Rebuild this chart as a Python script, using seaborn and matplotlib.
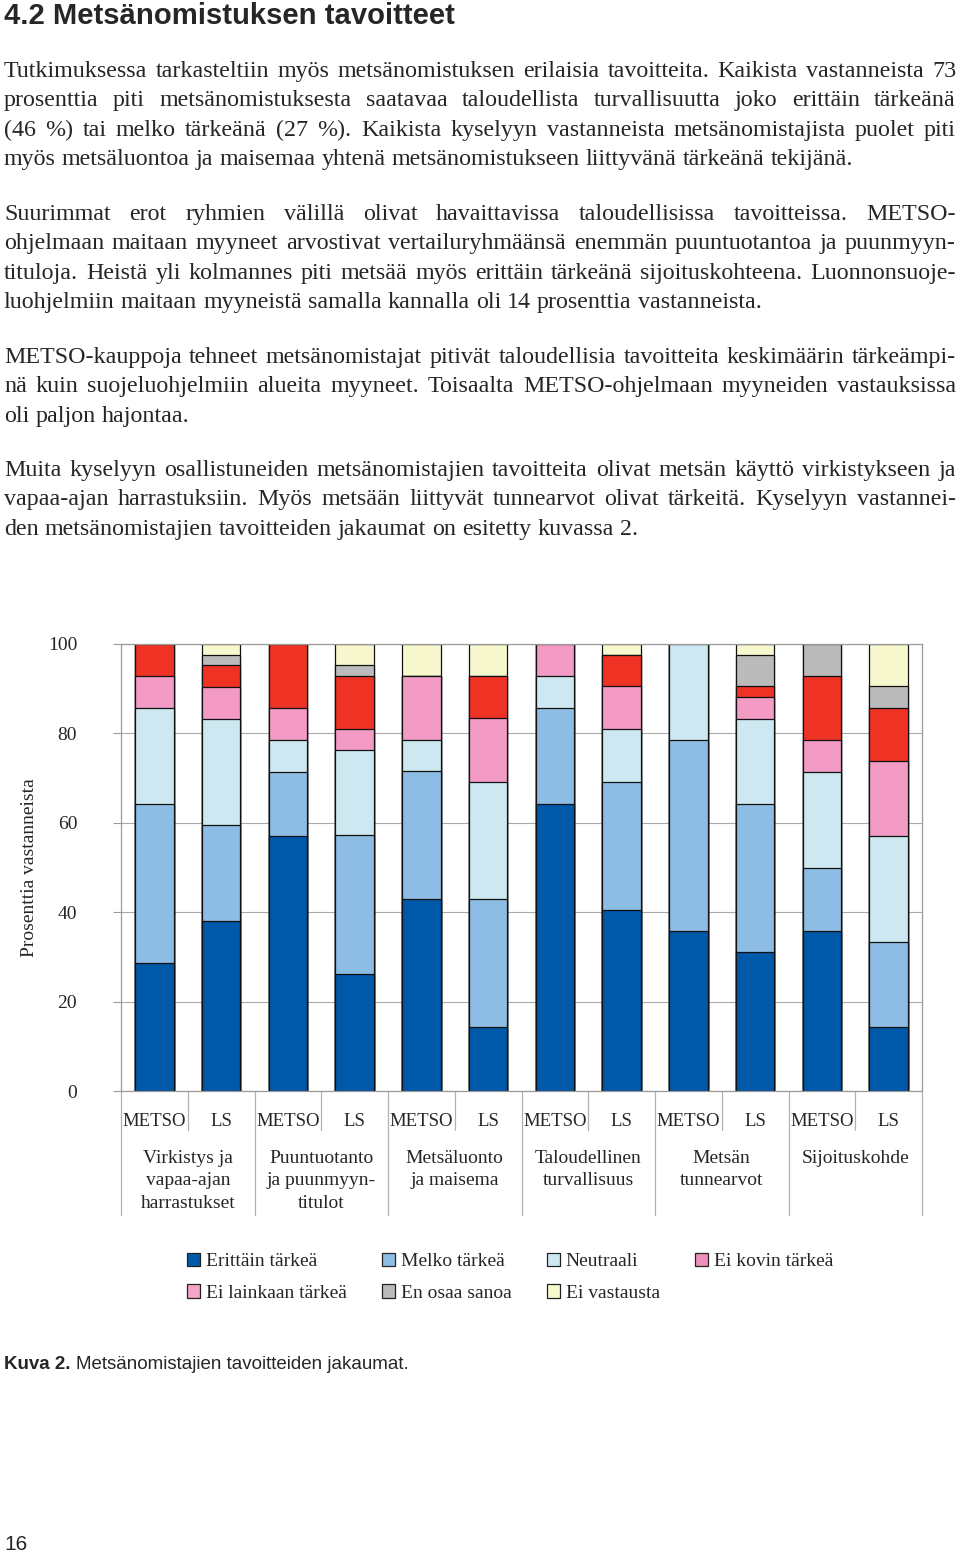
import numpy as np
import pandas as pd
import seaborn as sns
import matplotlib.pyplot as plt
import matplotlib.transforms as mtransforms
from matplotlib.patches import Patch

W, H = 960, 1553

# Kuvan 2 aineisto: prosenttia vastanneista
ryhmat = ['Virkistys ja\nvapaa-ajan\nharrastukset', 'Puuntuotanto\nja puunmyyn-\ntitulot',
          'Metsäluonto\nja maisema', 'Taloudellinen\nturvallisuus', 'Metsän\ntunnearvot', 'Sijoituskohde']
kohteet = ['METSO', 'LS']
vastaukset = ['Erittäin tärkeä', 'Melko tärkeä', 'Neutraali', 'Ei kovin tärkeä',
              'Ei lainkaan tärkeä', 'En osaa sanoa', 'Ei vastausta']

erittain = [28.6, 38.1, 57.1, 26.2, 42.9, 14.3, 64.3, 40.5, 35.7, 31.0, 35.7, 14.3]
melko = [35.7, 21.4, 14.3, 31.0, 28.6, 28.6, 21.4, 28.6, 42.9, 33.3, 14.3, 19.0]
neutraali = [21.4, 23.8, 7.1, 19.0, 7.1, 26.2, 7.1, 11.9, 21.4, 19.0, 21.4, 23.8]
ei_kovin = [7.1, 7.1, 7.1, 4.8, 14.3, 14.3, 7.2, 9.5, 0, 4.8, 7.1, 16.7]
ei_lainkaan = [7.2, 4.8, 14.4, 11.9, 0, 9.5, 0, 7.1, 0, 2.4, 14.3, 11.9]
en_osaa = [0, 2.4, 0, 2.4, 0, 0, 0, 0, 0, 7.1, 7.2, 4.8]
ei_vastausta = [0, 2.4, 0, 4.7, 7.1, 7.1, 0, 2.4, 0, 2.4, 0, 9.5]

varit = ['#0058A8', '#8DBDE5', '#CDE8F1', '#F39BC5', '#EE3224', '#BBBBBB', '#F8F8CE']
legend_varit = ['#0058A8', '#8DBDE5', '#CDE8F1', '#EE8FBE', '#F4A3C9', '#BBBBBB', '#F8F8CE']

otsikko = '4.2 Metsänomistuksen tavoitteet'
kappaleet = [
    ['Tutkimuksessa tarkasteltiin myös metsänomistuksen erilaisia tavoitteita. Kaikista vastanneista 73',
     'prosenttia piti metsänomistuksesta saatavaa taloudellista turvallisuutta joko erittäin tärkeänä',
     '(46 %) tai melko tärkeänä (27 %). Kaikista kyselyyn vastanneista metsänomistajista puolet piti',
     'myös metsäluontoa ja maisemaa yhtenä metsänomistukseen liittyvänä tärkeänä tekijänä.'],
    ['Suurimmat erot ryhmien välillä olivat havaittavissa taloudellisissa tavoitteissa. METSO-',
     'ohjelmaan maitaan myyneet arvostivat vertailuryhmäänsä enemmän puuntuotantoa ja puunmyyn-',
     'tituloja. Heistä yli kolmannes piti metsää myös erittäin tärkeänä sijoituskohteena. Luonnonsuoje-',
     'luohjelmiin maitaan myyneistä samalla kannalla oli 14 prosenttia vastanneista.'],
    ['METSO-kauppoja tehneet metsänomistajat pitivät taloudellisia tavoitteita keskimäärin tärkeämpi-',
     'nä kuin suojeluohjelmiin alueita myyneet. Toisaalta METSO-ohjelmaan myyneiden vastauksissa',
     'oli paljon hajontaa.'],
    ['Muita kyselyyn osallistuneiden metsänomistajien tavoitteita olivat metsän käyttö virkistykseen ja',
     'vapaa-ajan harrastuksiin. Myös metsään liittyvät tunnearvot olivat tärkeitä. Kyselyyn vastannei-',
     'den metsänomistajien tavoitteiden jakaumat on esitetty kuvassa 2.'],
]
kuvateksti = ('Kuva 2.', 'Metsänomistajien tavoitteiden jakaumat.')
sivu = '16'

sns.set_style('white')
plt.rcParams['font.family'] = ['Liberation Serif', 'DejaVu Serif']

fig = plt.figure(figsize=(W / 100, H / 100), dpi=100)
renderer = fig.canvas.get_renderer()


def leveys(s, **kw):
    t = fig.text(0, 0, s, **kw)
    w = t.get_window_extent(renderer).width
    t.remove()
    return w


def sovita(s, tavoite, **kw):
    return 10 * tavoite / leveys(s, fontsize=10, **kw)


def fy(y):
    return 1 - y / H


# otsikko
sans = ['Liberation Sans', 'DejaVu Sans']
fs_ots = sovita(otsikko, 451, family=sans, weight='bold')
fig.text(4 / W, fy(24), otsikko, family=sans, weight='bold', fontsize=fs_ots, va='baseline')

# leipäteksti, tasattu molemmista reunoista
fs = sovita(kappaleet[3][-1], 636)
tyhja = fs * 100 / 72 * 0.25
alut = [77, 220, 363, 476]
for kpl, y0 in zip(kappaleet, alut):
    for i, rivi in enumerate(kpl):
        y = y0 + i * 29.4
        sanat = rivi.split(' ')
        lev = [leveys(s, fontsize=fs) for s in sanat]
        if i == len(kpl) - 1:
            vali = tyhja
        else:
            vali = (952 - sum(lev)) / (len(sanat) - 1)
        x = 4
        for s, l in zip(sanat, lev):
            fig.text(x / W, fy(y), s, fontsize=fs, va='baseline')
            x += l + vali

# pinottu pylväskuvio
pylvaat = [f'{r}|{k}' for r in ryhmat for k in kohteet]
df = pd.DataFrame({'pylvas': pylvaat})
sarjat = [erittain, melko, neutraali, ei_kovin, ei_lainkaan, en_osaa, ei_vastausta]
for v, s in zip(vastaukset, sarjat):
    df[v] = s
kum = df[vastaukset].cumsum(axis=1)
kum['pylvas'] = df['pylvas']

ax = fig.add_axes([121 / W, fy(1091), (922 - 121) / W, (1091 - 644) / H])
for k in reversed(range(len(vastaukset))):
    sns.barplot(data=kum, x='pylvas', y=vastaukset[k], order=pylvaat, color=varit[k],
                saturation=1, width=0.58, edgecolor='#111111', linewidth=0.9,
                errorbar=None, ax=ax)

harmaa = '#9A9A9A'
ax.set_ylim(0, 100)
ax.set_xlim(-0.5, len(pylvaat) - 0.5)
ax.set_yticks(range(0, 101, 20))
ax.yaxis.grid(True, color='#AAAAAA', lw=0.8)
ax.set_axisbelow(True)
for sp in ax.spines.values():
    sp.set_visible(True)
    sp.set_color(harmaa)
    sp.set_linewidth(0.9)
ax.tick_params(axis='y', length=5.5, width=0.8, color=harmaa, pad=26, labelsize=14, left=True)
ax.set_xticks(range(len(pylvaat)))
ax.set_xticklabels(kohteet * len(ryhmat))
ax.tick_params(axis='x', length=0, pad=16, labelsize=13.5)
ax.set_xlabel('')
ax.set_ylabel('Prosenttia vastanneista', fontsize=14)
ax.yaxis.set_label_coords((38 - 121) / 801, 0.5)

# ryhmien erotinviivat ja nimet
trans = mtransforms.blended_transform_factory(ax.transData, ax.transAxes)
for j, b in enumerate(np.arange(-0.5, len(pylvaat), 1)):
    ala = -124 / 447 if j % 2 == 0 else -39 / 447
    ax.plot([b, b], [0, ala], transform=trans, clip_on=False, color='#B0B0B0', lw=0.9)
for g, r in enumerate(ryhmat):
    ax.text(2 * g + 0.5, -59 / 447, r, transform=trans, ha='center', va='top',
            fontsize=14, linespacing=1.42)

# selite
jarjestys = [0, 4, 1, 5, 2, 6, 3]
kahvat = [Patch(facecolor=legend_varit[i], edgecolor='#222222', lw=0.9, label=vastaukset[i])
          for i in jarjestys]
fig.legend(handles=kahvat, loc='upper left', bbox_to_anchor=(187 / W, fy(1253)), ncol=4,
           frameon=False, fontsize=14, handlelength=0.68, handleheight=0.68,
           handletextpad=0.3, columnspacing=1.8, labelspacing=0.72,
           borderpad=0, borderaxespad=0)

# kuvateksti ja sivunumero
fs_kuva = 13.5
t1 = fig.text(4 / W, fy(1369), kuvateksti[0], family=sans, weight='bold', fontsize=fs_kuva,
              va='baseline')
x2 = 4 + t1.get_window_extent(renderer).width + fs_kuva * 100 / 72 * 0.28
fig.text(x2 / W, fy(1369), kuvateksti[1], family=sans, fontsize=fs_kuva, va='baseline')
fig.text(4 / W, fy(1550), sivu, family=sans, fontsize=15, va='baseline')

fig.savefig('out.png', dpi=100)
